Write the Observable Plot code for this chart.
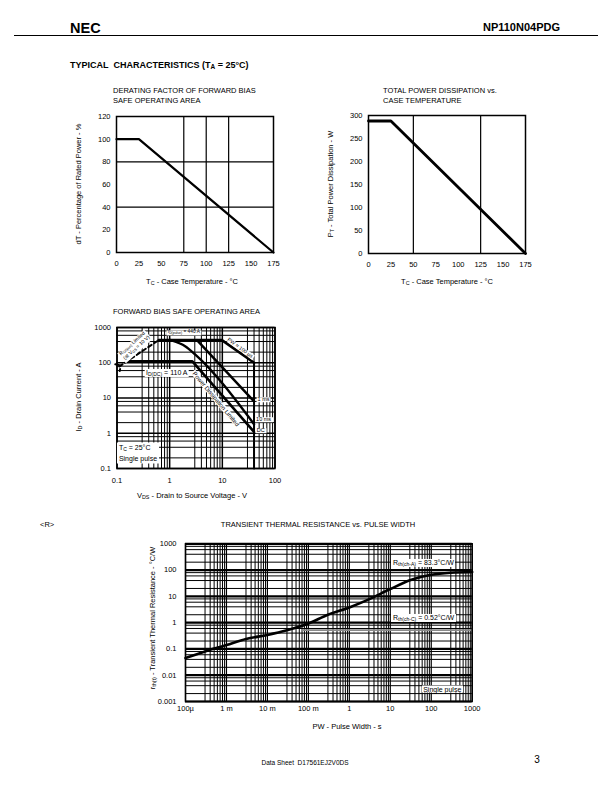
<!DOCTYPE html>
<html><head><meta charset="utf-8">
<script src="https://cdn.jsdelivr.net/npm/d3@7"></script>
<script src="https://cdn.jsdelivr.net/npm/@observablehq/plot@0.6"></script>
<style>
body{margin:0;background:#fff;font-family:"Liberation Sans",Arial,Helvetica,sans-serif;color:#000}
#page{position:relative;width:612px;height:792px;overflow:hidden;background:#fff}
.a{position:absolute;white-space:nowrap;line-height:1}
.c{transform:translate(-50%,-50%)}
.r{transform:translate(-50%,-50%) rotate(-90deg)}
.t{font-size:7.5px}
.sb{font-size:0.72em;vertical-align:-0.2em}
.ov{position:absolute;white-space:nowrap;line-height:1;transform-origin:50% 50%}
.bx{background:#fff;padding:0 1.5px}
svg{display:block}
</style></head>
<body><div id="page"></div>
<script>
// ---------------- data ----------------
const tempTicks = [0, 25, 50, 75, 100, 125, 150, 175];
const derateTicks = [0, 20, 40, 60, 80, 100, 120];
const derateGridT = [75, 100, 125];
const derateGridPct = [40, 80];
const derateTemp = [0, 25, 175];
const deratePct = [100, 100, 0];

const powerTicks = [0, 50, 100, 150, 200, 250, 300];
const powerGridT = [50, 125];
const powerTemp = [0, 25, 175];
const powerW = [288, 288, 0];

const soaVTicks = [0.1, 1, 10, 100];
const soaVTickLabels = ["0.1", "1", "10", "100"];
const soaITicks = [0.1, 1, 10, 100, 1000];
const soaITickLabels = ["0.1", "1", "10", "100", "1000"];
const rdsLimitV = [0.11, 0.6];
const rdsLimitI = [78, 425];
const pw100usV = [0.62, 9.8, 40];
const pw100usI = [440, 440, 100];
const vdssV = [40, 40];
const vdssI = [100, 0.1];
const pw1msV = [3.3, 40];
const pw1msI = [440, 8];
const pw10msV = [1.05, 2, 3, 40];
const pw10msI = [440, 290, 175, 1.8];
const dcV = [0.15, 2.7, 40];
const dcI = [110, 110, 1.1];

const pwTicks = [1e-4, 1e-3, 1e-2, 1e-1, 1, 10, 100, 1000];
const pwTickLabels = ["100\u00b5", "1 m", "10 m", "100 m", "1", "10", "100", "1000"];
const rthTicks = [0.001, 0.01, 0.1, 1, 10, 100, 1000];
const rthTickLabels = ["0.001", "0.01", "0.1", "1", "10", "100", "1000"];
const pulseWidth = [1e-4, 3e-4, 1e-3, 3e-3, 1e-2, 3e-2, 0.1, 0.3, 1, 3, 10, 30, 100, 300, 1000];
const rthT = [0.045, 0.08, 0.14, 0.24, 0.34, 0.51, 0.93, 2.0, 3.8, 7.7, 19, 41, 66, 79, 84];
const rthChC = 0.52;
const rthChA = 83.3;

// ---------------- helpers ----------------
const page = document.getElementById("page");
const FONT = "'Liberation Sans', Arial, Helvetica, sans-serif";
const style = {fontFamily: FONT, fontSize: "7.5px", color: "#000", background: "transparent", overflow: "visible"};
const pairs = (xs, ys) => xs.map((x, i) => [x, ys[i]]);
const fmt = (ticks, labels) => { const m = new Map(ticks.map((t, i) => [t, labels[i]])); return d => m.get(d); };
function logMinor(lo, hi, mults) { const out = []; for (let e = lo; e < hi; e++) for (const m of mults) out.push(m * Math.pow(10, e)); return out; }

function html(x, y, content, cls) {
  const d = document.createElement("div");
  d.className = "a " + cls; d.style.left = x + "px"; d.style.top = y + "px"; d.innerHTML = content;
  page.appendChild(d); return d;
}
function mount(plot, left, top) {
  const d = document.createElement("div");
  d.style.position = "absolute"; d.style.left = left + "px"; d.style.top = top + "px";
  d.appendChild(plot); page.appendChild(d);
  return {plot, left, top};
}
function overlay(m, xv, yv, content, {fs = 7, rot = 0, box = true, anchor = "middle"} = {}) {
  const x = m.left + m.plot.scale("x").apply(xv), y = m.top + m.plot.scale("y").apply(yv);
  const d = document.createElement("div");
  d.className = "ov" + (box ? " bx" : "");
  d.style.left = x + "px"; d.style.top = y + "px"; d.style.fontSize = fs + "px";
  const tx = anchor === "start" ? "0" : "-50%";
  d.style.transform = `translate(${tx},-50%) rotate(${rot}deg)`;
  d.innerHTML = content; page.appendChild(d); return d;
}

// ---------------- page text ----------------
html(70, 21, "NEC", "").style.cssText += "font-weight:900;font-size:14.5px;letter-spacing:0px;";
html(560, 22, "NP110N04PDG", "").style.cssText += "font-weight:bold;font-size:11px;transform:translateX(-100%);";
const rule = document.createElement("div");
rule.style.cssText = "position:absolute;left:14px;top:35px;width:584px;height:1px;background:#000";
page.appendChild(rule);
html(70, 61, "TYPICAL&nbsp; CHARACTERISTICS (T<span class='sb'>A</span> = 25\u00b0C)", "").style.cssText += "font-weight:bold;font-size:9px;";

html(113, 87, "DERATING FACTOR OF FORWARD BIAS", "t");
html(113, 97, "SAFE OPERATING AREA", "t");
html(383, 87, "TOTAL POWER DISSIPATION vs.", "t");
html(383, 97, "CASE TEMPERATURE", "t");
html(113, 308, "FORWARD BIAS SAFE OPERATING AREA", "t");
html(40, 521, "&lt;R&gt;", "t");
html(318, 525, "TRANSIENT THERMAL RESISTANCE vs. PULSE WIDTH", "t c");

html(79, 184, "dT - Percentage of Rated Power - %", "t r");
html(192, 282, "T<span class='sb'>C</span> - Case Temperature - \u00b0C", "t c");
html(331, 184, "P<span class='sb'>T</span> - Total Power Dissipation - W", "t r");
html(447, 282, "T<span class='sb'>C</span> - Case Temperature - \u00b0C", "t c");
html(79, 397, "I<span class='sb'>D</span> - Drain Current - A", "t r");
html(192, 496, "V<span class='sb'>DS</span> - Drain to Source Voltage - V", "t c");
html(153, 618, "r<span class='sb'>th(t)</span> - Transient Thermal Resistance - \u00b0C/W", "t r");
html(347, 727, "PW - Pulse Width - s", "t c");

html(305, 763, "Data Sheet&nbsp; D17561EJ2V0DS", "c").style.fontSize = "6.5px";
html(537, 760, "3", "c").style.fontSize = "10px";

// ---------------- chart 1: derating ----------------
const p1 = Plot.plot({
  width: 210, height: 170, marginLeft: 36, marginRight: 17, marginTop: 11, marginBottom: 23,
  style,
  x: {domain: [0, 175]}, y: {domain: [0, 120]},
  marks: [
    Plot.ruleX(derateGridT, {strokeWidth: 1.2}),
    Plot.ruleY(derateGridPct, {strokeWidth: 1.2}),
    Plot.line(pairs(derateTemp, deratePct), {strokeWidth: 2.2}),
    Plot.frame({strokeWidth: 1.5}),
    Plot.axisX(tempTicks, {tickSize: 0, tickPadding: 8, label: null}),
    Plot.axisY(derateTicks, {tickSize: 0, tickPadding: 6, label: null})
  ]
});
mount(p1, 80, 105);

// ---------------- chart 2: total power ----------------
const p2 = Plot.plot({
  width: 210, height: 170, marginLeft: 38, marginRight: 15, marginTop: 10, marginBottom: 22,
  style,
  x: {domain: [0, 175]}, y: {domain: [0, 300]},
  marks: [
    Plot.ruleX(powerGridT, {strokeWidth: 1.2}),
    Plot.line(pairs(powerTemp, powerW), {strokeWidth: 2.8}),
    Plot.frame({strokeWidth: 1.5}),
    Plot.axisX(tempTicks, {tickSize: 0, tickPadding: 8, label: null}),
    Plot.axisY(powerTicks, {tickSize: 0, tickPadding: 6, label: null})
  ]
});
mount(p2, 330, 105);

// ---------------- chart 3: SOA ----------------
const soaVMinor = logMinor(-1, 2, [3, 4, 5, 6, 7, 8, 9]);
const soaIMinor = logMinor(-1, 3, [2, 4, 6, 8]);
const p3 = Plot.plot({
  width: 210, height: 170, marginLeft: 36.5, marginRight: 15.5, marginTop: 9, marginBottom: 20,
  style,
  x: {type: "log", domain: [0.1, 100]}, y: {type: "log", domain: [0.1, 1000]},
  marks: [
    Plot.ruleX(soaVMinor, {strokeWidth: 1}),
    Plot.ruleX(soaVTicks, {strokeWidth: 1.5}),
    Plot.ruleY(soaIMinor, {strokeWidth: 1}),
    Plot.ruleY(soaITicks, {strokeWidth: 1.6}),
    Plot.line(pairs(rdsLimitV, rdsLimitI), {strokeWidth: 2, strokeDasharray: "4,3", markerStart: "arrow"}),
    Plot.line(pairs(dcV, dcI), {strokeWidth: 2.6}),
    Plot.line(pairs(pw10msV, pw10msI), {strokeWidth: 2.4, curve: "monotone-x"}),
    Plot.line(pairs(pw1msV, pw1msI), {strokeWidth: 2.4}),
    Plot.line(pairs(pw100usV, pw100usI), {strokeWidth: 2.6}),
    Plot.line(pairs(vdssV, vdssI), {strokeWidth: 2}),
    Plot.frame({strokeWidth: 1.5}),
    Plot.axisX(soaVTicks, {tickSize: 0, tickPadding: 9, label: null, tickFormat: fmt(soaVTicks, soaVTickLabels)}),
    Plot.axisY(soaITicks, {tickSize: 0, tickPadding: 6, label: null, tickFormat: fmt(soaITicks, soaITickLabels)})
  ]
});
const m3 = mount(p3, 80, 318);
overlay(m3, 1.9, 680, "I<span class='sb'>D(pulse)</span> = 440 A", {fs: 4.8});
overlay(m3, 0.9, 50, "I<span class='sb'>D(DC)</span> = 110 A", {fs: 7});
overlay(m3, 22, 250, "PW = 100 \u00b5s", {fs: 5.2, rot: 36});
overlay(m3, 0.22, 290, "R<span class='sb'>DS(on)</span> Limited<br>(at V<span class='sb'>GS</span> = 10 V)", {fs: 5, rot: -42});
overlay(m3, 7.6, 9.3, "Power Dissipation Limited", {fs: 6, rot: 50});
overlay(m3, 62, 8.5, "1 ms", {fs: 5.5});
overlay(m3, 62, 2.3, "10 ms", {fs: 5.5});
overlay(m3, 55, 1.15, "DC", {fs: 5.5});
overlay(m3, 0.104, 0.27, "T<span class='sb'>C</span> = 25\u00b0C<br>Single pulse", {fs: 7, anchor: "start"}).style.lineHeight = "10px";

// ---------------- chart 4: transient thermal resistance ----------------
const pwMinor = logMinor(-4, 3, [3, 4, 5, 6, 7, 8, 9]);
const rthMinor = logMinor(-3, 3, [2, 4, 6, 8]);
const p4 = Plot.plot({
  width: 335, height: 185, marginLeft: 35, marginRight: 13.3, marginTop: 10.3, marginBottom: 17,
  style,
  x: {type: "log", domain: [1e-4, 1e3]}, y: {type: "log", domain: [1e-3, 1e3]},
  marks: [
    Plot.ruleX(pwMinor, {strokeWidth: 1}),
    Plot.ruleX(pwTicks, {strokeWidth: 1.2}),
    Plot.ruleY(rthMinor, {strokeWidth: 1}),
    Plot.ruleY(rthTicks, {strokeWidth: 2.2}),
    Plot.ruleY([rthChC], {x1: 0.07, x2: 1000, stroke: "#8a8a8a", strokeWidth: 1.6}),
    Plot.line(pairs(pulseWidth, rthT), {strokeWidth: 2.6, curve: "monotone-x"}),
    Plot.frame({strokeWidth: 1.5}),
    Plot.axisX(pwTicks, {tickSize: 0, tickPadding: 4.5, label: null, tickFormat: fmt(pwTicks, pwTickLabels)}),
    Plot.axisY(rthTicks, {tickSize: 0, tickPadding: 9, label: null, tickFormat: fmt(rthTicks, rthTickLabels)})
  ]
});
const m4 = mount(p4, 150, 533);
overlay(m4, 11, 180, "R<span class='sb'>th(ch-A)</span> = " + rthChA + "\u00b0C/W", {fs: 7, anchor: "start"});
overlay(m4, 11, 1.45, "R<span class='sb'>th(ch-C)</span> = " + rthChC + "\u00b0C/W", {fs: 7, anchor: "start"});
overlay(m4, 60, 0.0029, "Single pulse", {fs: 7, anchor: "start"});
</script>
</body></html>
